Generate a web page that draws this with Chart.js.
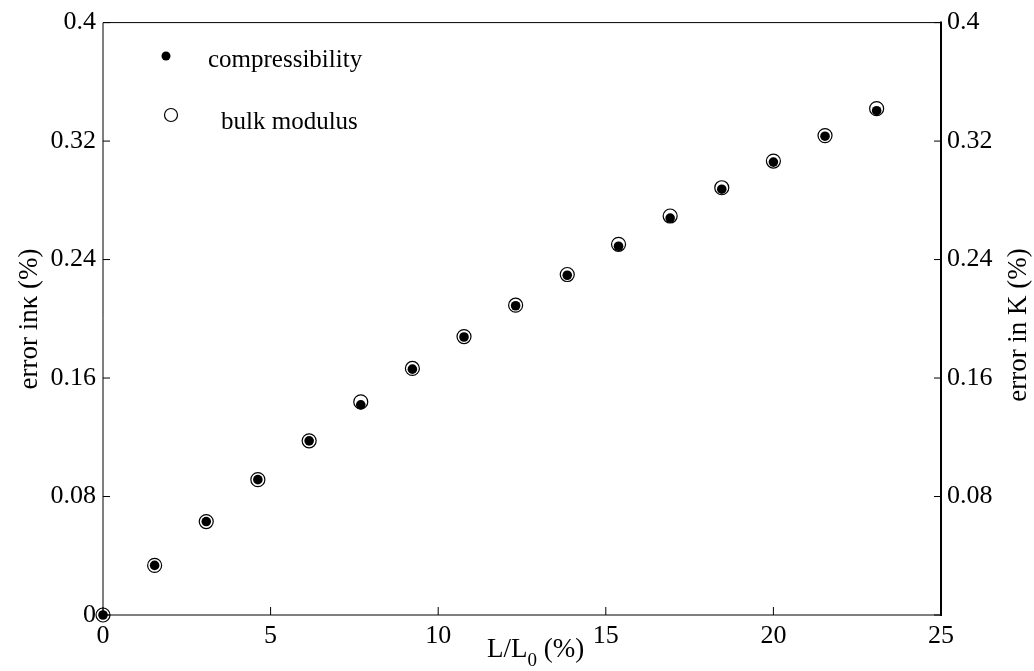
<!DOCTYPE html>
<html>
<head>
<meta charset="utf-8">
<script src="https://cdn.jsdelivr.net/npm/chart.js@4.4.0/dist/chart.umd.min.js"></script>
<style>
  html, body { margin: 0; padding: 0; background: #fff; }
</style>
</head>
<body>
<canvas id="chart" width="1034" height="671"></canvas>
<script>
// data
const xValues = [0, 1.54, 3.08, 4.62, 6.15, 7.69, 9.23, 10.77, 12.31, 13.85, 15.38, 16.92, 18.46, 20.0, 21.54, 23.08];
const compressibility = [0, 0.0335, 0.0631, 0.0914, 0.1176, 0.1419, 0.166, 0.1877, 0.2088, 0.2294, 0.249, 0.268, 0.2875, 0.3058, 0.3233, 0.3405];
const bulkModulus = [0, 0.0335, 0.0631, 0.0914, 0.1176, 0.1439, 0.1665, 0.188, 0.2092, 0.2299, 0.2503, 0.2694, 0.2885, 0.3065, 0.3237, 0.3419];
const xTicks = [0, 5, 10, 15, 20, 25];
const yTicks = [0, 0.08, 0.16, 0.24, 0.32, 0.4];
const yTickLabels = ['0', '0.08', '0.16', '0.24', '0.32', '0.4'];
const rightTickLabels = ['', '0.08', '0.16', '0.24', '0.32', '0.4'];

const SERIF = '"Liberation Serif", "Times New Roman", serif';
const toPoints = ys => xValues.map((x, i) => ({ x, y: ys[i] }));
const setTicks = list => s => { s.ticks = list.map(v => ({ value: v })); };

// frame + inward tick marks (MATLAB style)
const framePlugin = {
  id: 'frame',
  beforeDatasetsDraw(chart) {
    const { ctx, chartArea: a, scales } = chart;
    ctx.save();
    ctx.strokeStyle = '#000';
    ctx.lineWidth = 1;
    ctx.beginPath();
    ctx.moveTo(a.left, a.top); ctx.lineTo(a.right, a.top);
    ctx.moveTo(a.left, a.top); ctx.lineTo(a.left, a.bottom); ctx.lineTo(a.right, a.bottom);
    ctx.stroke();
    ctx.lineWidth = 2;
    ctx.beginPath();
    ctx.moveTo(a.right, a.top - 1); ctx.lineTo(a.right, a.bottom + 1);
    ctx.stroke();
    ctx.lineWidth = 1;
    ctx.beginPath();
    xTicks.forEach(v => {
      const px = scales.x.getPixelForValue(v);
      ctx.moveTo(px, a.bottom); ctx.lineTo(px, a.bottom - 8);
    });
    yTicks.forEach(v => {
      const py = scales.y.getPixelForValue(v);
      ctx.moveTo(a.left, py); ctx.lineTo(a.left + 7, py);
      ctx.moveTo(a.right, py); ctx.lineTo(a.right - 7, py);
    });
    ctx.stroke();
    ctx.restore();
  }
};

// axis titles and the in-plot legend
const labelPlugin = {
  id: 'labels',
  afterDraw(chart) {
    const { ctx } = chart;
    ctx.save();
    ctx.fillStyle = '#000';

    // x title with subscript
    ctx.textAlign = 'left';
    ctx.textBaseline = 'alphabetic';
    let x = 487;
    ctx.font = '27px ' + SERIF;
    ctx.fillText('L/L', x, 657);
    x += ctx.measureText('L/L').width;
    ctx.font = '19px ' + SERIF;
    ctx.fillText('0', x, 666);
    x += ctx.measureText('0').width;
    ctx.font = '27px ' + SERIF;
    ctx.fillText(' (%)', x, 657);

    // y titles, both reading bottom to top
    ctx.textAlign = 'center';
    [['error in\u03ba (%)', 37, 319], ['error in K (%)', 1026, 325]].forEach(([t, bx, cy]) => {
      ctx.save();
      ctx.translate(bx, cy);
      ctx.rotate(-Math.PI / 2);
      ctx.fillText(t, 0, 0);
      ctx.restore();
    });

    // legend
    ctx.textAlign = 'left';
    ctx.font = '25px ' + SERIF;
    const items = [
      { ds: chart.data.datasets[0], mx: 166, my: 56, tx: 208, ty: 67, r: 4.5 },
      { ds: chart.data.datasets[1], mx: 171, my: 115, tx: 221, ty: 129, r: 6.5 }
    ];
    items.forEach(it => {
      ctx.fillStyle = it.ds.backgroundColor;
      ctx.strokeStyle = it.ds.borderColor;
      ctx.lineWidth = it.ds.borderWidth;
      Chart.helpers.drawPoint(ctx, { pointStyle: 'circle', radius: it.r, borderWidth: it.ds.borderWidth, rotation: 0 }, it.mx, it.my);
      ctx.fillStyle = '#000';
      ctx.fillText(it.ds.label, it.tx, it.ty);
    });
    ctx.restore();
  }
};

const tickFont = { family: SERIF, size: 26 };

new Chart(document.getElementById('chart'), {
  type: 'scatter',
  data: {
    datasets: [
      { label: 'compressibility', data: toPoints(compressibility), pointStyle: 'circle', pointRadius: 4.8, pointHoverRadius: 4.8,
        backgroundColor: '#000', borderColor: '#000', borderWidth: 0, clip: false },
      { label: 'bulk modulus', data: toPoints(bulkModulus), pointStyle: 'circle', pointRadius: 7, pointHoverRadius: 7,
        backgroundColor: 'rgba(0,0,0,0)', borderColor: '#000', borderWidth: 1.2, clip: false }
    ]
  },
  options: {
    responsive: false,
    animation: false,
    layout: { padding: { top: 21, left: 0, right: 0, bottom: 0 } },
    scales: {
      x: {
        type: 'linear', position: 'bottom', min: 0, max: 25,
        afterBuildTicks: setTicks(xTicks),
        afterFit: s => { s.height = 56; },
        grid: { display: false, drawTicks: false }, border: { display: false },
        ticks: { color: '#000', font: tickFont, padding: 6, maxRotation: 0, callback: v => String(v) }
      },
      y: {
        type: 'linear', position: 'left', min: 0, max: 0.4,
        afterBuildTicks: setTicks(yTicks),
        afterFit: s => { s.width = 103; },
        grid: { display: false, drawTicks: false }, border: { display: false },
        ticks: { color: '#000', font: tickFont, padding: 7, callback: (v, i) => yTickLabels[i] }
      },
      y2: {
        type: 'linear', position: 'right', min: 0, max: 0.4,
        afterBuildTicks: setTicks(yTicks),
        afterFit: s => { s.width = 93; },
        grid: { display: false, drawTicks: false }, border: { display: false },
        ticks: { color: '#000', font: tickFont, padding: 6, callback: (v, i) => rightTickLabels[i] }
      }
    },
    plugins: { legend: { display: false }, tooltip: { enabled: false } }
  },
  plugins: [framePlugin, labelPlugin]
});
</script>
</body>
</html>
